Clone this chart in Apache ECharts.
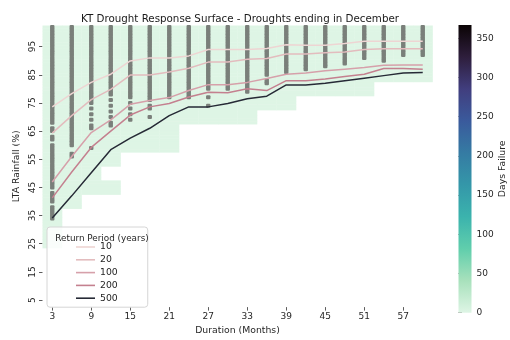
<!DOCTYPE html>
<html><head><meta charset="utf-8">
<script src="https://cdn.jsdelivr.net/npm/echarts@6/dist/echarts.min.js"></script>
<style>html,body{margin:0;padding:0;background:#fff}#c{width:510px;height:340px}</style>
</head><body><div id="c"></div>
<script>
// ---- data ----
const durations = [3,6,9,12,15,18,21,24,27,30,33,36,39,42,45,48,51,54,57,60];
const xTickLabels = [3,9,15,21,27,33,39,45,51,57];
const yTickLabels = [5,15,25,35,45,55,65,75,85,95];
const colorbarTicks = [0,50,100,150,200,250,300,350];
const colorbarMax = 367;

// heatmap cells (Days Failure) per duration: rows from cellBottom up to cellTop
const cellTop = [102,102,102,102,102,102,102,102,102,102,102,102,102,102,102,102,102,102,102,102];
const cellBottom = [24,38,43,43,58,58,58,68,68,68,68,73,73,78,78,78,78,83,83,83];
const cellMissing = [[],[],[],[48,49,50,51,52],[],[],[],[],[],[],[],[],[],[],[],[],[],[],[],[]];
const cellDays = [0,0,0,0,0,0,0,0,0,0,0,0,0,0,0,0,0,0,0,0];

// simulated drought events (grey dots)
const dotTop = [102,102,102,102,102,102,102,102,102,102,102,102,102,102,102,102,102,102,102,102];
const dotSolidBottom = [34,60,75,78,77,76,77,79,80,80,82,85,86,87,88,90,91,90,92,92];
const dotGaps = [[67,64,61,44,39],[],[],[],[],[],[],[],[],[],[],[],[],[],[],[],[],[],[],[]];
const dotExtra = [[],[57,56],[73,71,69,67,66,59],[76,74,72,70,68,67],[75,73,71,69],[74,73,70],[],[78,77],[77,74],[],[81,80,79],[83,82],[],[],[],[89],[],[],[],[]];

// return period curves
const returnPeriods = ['10','20','100','200','500'];
const rp10  = [73.6,78.3,82.3,85.2,89.9,91,91,91.7,94,94,94,94.3,95.7,95.5,95.5,96.1,96.9,96.9,96.9,96.9];
const rp20  = [64.3,70.5,76.2,79.8,84.9,84.9,86,87.3,89.5,89.5,90.5,90.8,92.4,92.4,92.8,93.1,94,94.2,94.2,94.2];
const rp100 = [46.9,56,64.5,69,74.5,75.9,76.9,79.4,81.5,81.5,82.3,83.7,85.2,85.6,86.4,87,87.6,88.4,88.5,88.5];
const rp200 = [41.3,50.5,59.2,65,70.7,73.6,74.8,77.1,78.8,78.6,80,79.4,82.9,82.9,83.5,84.4,85.2,87.2,87.2,87];
const rp500 = [34.1,42,50.2,58.4,62.5,66,70.5,73.6,73.6,74.8,76.5,77.4,81.4,81.4,82,82.9,83.8,84.7,85.6,85.8];

// ---- styles ----
const makoR = ['#def5e5','#a8e1bc','#60ceac','#3bb3ad','#3497a9','#357ba3','#3a5a9c','#413e7e','#2e1e3c','#0b0405'];
const lineColors = ['#eed5d3','#e3bcbe','#d6a0aa','#c4808f','#262a36'];
const FONT = 'DejaVu Sans';
const TXT = '#262626';

// ---- build ----
const cells = [];
durations.forEach((d, i) => {
  for (let r = cellBottom[i]; r <= cellTop[i]; r++) {
    if (cellMissing[i].indexOf(r) === -1) cells.push([d, r, cellDays[i]]);
  }
});
const dots = [];
durations.forEach((d, i) => {
  for (let r = dotSolidBottom[i]; r <= dotTop[i]; r++) {
    if (dotGaps[i].indexOf(r) === -1) dots.push([d, r]);
  }
  dotExtra[i].forEach(r => dots.push([d, r]));
});
const rpData = [rp10, rp20, rp100, rp200, rp500];

const chart = echarts.init(document.getElementById('c'), null, {renderer: 'canvas'});
const stops = makoR.map((c, i) => ({offset: i / (makoR.length - 1), color: c}));

chart.setOption({
  animation: false,
  textStyle: {fontFamily: FONT},
  title: [
    {text: 'KT Drought Response Surface - Droughts ending in December', left: 235, top: 9, textAlign: 'center',
     textStyle: {fontFamily: FONT, fontSize: 10.3, fontWeight: 'normal', color: '#1a1a1a'}},
    {text: 'Return Period (years)', left: 97, top: 229, textAlign: 'center', z: 10,
     textStyle: {fontFamily: FONT, fontSize: 8.8, fontWeight: 'normal', color: TXT}}
  ],
  grid: [
    {left: 42.5, top: 25.5, width: 390, height: 286.7},
    {left: 458.5, top: 25, width: 13, height: 287.7}
  ],
  xAxis: [
    {type: 'value', gridIndex: 0, min: 1.5, max: 61.5,
     name: 'Duration (Months)', nameLocation: 'middle', nameGap: 15,
     nameTextStyle: {fontFamily: FONT, fontSize: 9.3, color: TXT},
     axisLine: {show: false}, splitLine: {show: false},
     axisTick: {show: true, customValues: xTickLabels, length: 3.5, lineStyle: {color: '#333', width: 0.8}},
     axisLabel: {customValues: xTickLabels, fontFamily: FONT, fontSize: 9, color: TXT, margin: 5}},
    {type: 'value', gridIndex: 1, min: 0, max: 1, show: false}
  ],
  yAxis: [
    {type: 'value', gridIndex: 0, min: 2.5, max: 102.5,
     name: 'LTA Rainfall (%)', nameLocation: 'middle', nameGap: 15, nameRotate: 90,
     nameTextStyle: {fontFamily: FONT, fontSize: 9.3, color: TXT},
     axisLine: {show: false}, splitLine: {show: false},
     axisTick: {show: true, customValues: yTickLabels, length: 3.5, lineStyle: {color: '#333', width: 0.8}},
     axisLabel: {customValues: yTickLabels, rotate: 90, fontFamily: FONT, fontSize: 9, color: TXT, margin: 5}},
    {type: 'value', gridIndex: 1, min: 0, max: colorbarMax, position: 'right',
     name: 'Days Failure', nameLocation: 'middle', nameGap: 27, nameRotate: 90,
     nameTextStyle: {fontFamily: FONT, fontSize: 9.3, color: TXT},
     axisLine: {show: false}, splitLine: {show: false},
     axisTick: {show: true, customValues: colorbarTicks, length: 3.5, lineStyle: {color: '#333', width: 0.8}},
     axisLabel: {customValues: colorbarTicks, fontFamily: FONT, fontSize: 9, color: TXT, margin: 5}}
  ],
  visualMap: {type: 'continuous', show: false, min: 0, max: colorbarMax, dimension: 2, seriesIndex: 0,
    inRange: {color: makoR}},
  legend: {
    orient: 'vertical', left: 47, top: 227, z: 8,
    padding: [15, 30, 4, 29],
    backgroundColor: 'rgba(255,255,255,0.82)', borderColor: '#d6d6d6', borderWidth: 1, borderRadius: 3,
    itemWidth: 19, itemHeight: 1.6, itemGap: 2.8, icon: 'rect',
    textStyle: {fontFamily: FONT, fontSize: 9.3, color: TXT, lineHeight: 10},
    data: returnPeriods
  },
  series: [
    {type: 'custom', xAxisIndex: 0, yAxisIndex: 0, data: cells, silent: true, z: 1,
     encode: {x: 0, y: 1},
     renderItem: function (params, api) {
       const x = api.value(0), y = api.value(1);
       const p0 = api.coord([x - 1.5, y + 0.5]);
       const p1 = api.coord([x + 1.5, y - 0.5]);
       return {type: 'rect', shape: {x: p0[0], y: p0[1], width: p1[0] - p0[0] + 0.3, height: p1[1] - p0[1] + 0.4},
               style: {fill: api.visual('color')}};
     }},
    {type: 'scatter', xAxisIndex: 0, yAxisIndex: 0, data: dots, symbol: 'roundRect', symbolSize: [4.4, 4],
     silent: true, z: 2, itemStyle: {color: '#7a7f7a', opacity: 1}},
    ...returnPeriods.map((rp, i) => ({
      type: 'line', name: rp, xAxisIndex: 0, yAxisIndex: 0, z: 3 + i,
      data: durations.map((d, j) => [d, rpData[i][j]]),
      symbol: 'none', lineStyle: {color: lineColors[i], width: 1.5}, itemStyle: {color: lineColors[i]}
    })),
    {type: 'custom', xAxisIndex: 1, yAxisIndex: 1, data: [[0, colorbarMax]], silent: true,
     renderItem: function (params, api) {
       const a = api.coord([0, 0]);
       const b = api.coord([1, api.value(1)]);
       return {type: 'rect', shape: {x: a[0], y: b[1], width: b[0] - a[0], height: a[1] - b[1]},
               style: {fill: new echarts.graphic.LinearGradient(0, 1, 0, 0, stops)}};
     }}
  ]
});
</script></body></html>
